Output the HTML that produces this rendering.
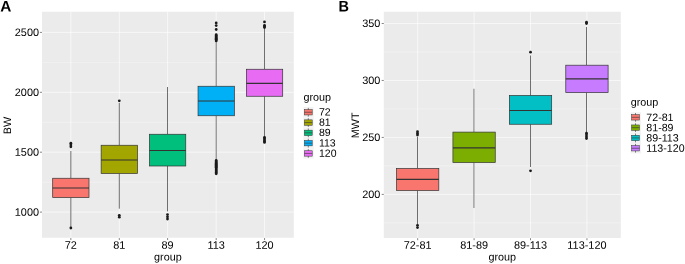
<!DOCTYPE html>
<html><head><meta charset="utf-8"><title>Boxplots</title>
<style>html,body{margin:0;padding:0;background:#fff}svg{display:block;will-change:transform;opacity:0.9999}</style>
</head><body>
<svg width="685" height="264" viewBox="0 0 685 264" font-family='"Liberation Sans", sans-serif'>
<rect width="685" height="264" fill="#fff"/>
<rect x="42.0" y="11.75" width="251.8" height="226.0" fill="#ebebeb"/>
<line x1="42.0" x2="293.8" y1="182.15" y2="182.15" stroke="#fff" stroke-width="0.33"/>
<line x1="42.0" x2="293.8" y1="122.25" y2="122.25" stroke="#fff" stroke-width="0.33"/>
<line x1="42.0" x2="293.8" y1="62.349999999999994" y2="62.349999999999994" stroke="#fff" stroke-width="0.33"/>
<line x1="42.0" x2="293.8" y1="212.10000000000002" y2="212.10000000000002" stroke="#fff" stroke-width="0.62"/>
<line x1="42.0" x2="293.8" y1="152.2" y2="152.2" stroke="#fff" stroke-width="0.62"/>
<line x1="42.0" x2="293.8" y1="92.3" y2="92.3" stroke="#fff" stroke-width="0.62"/>
<line x1="42.0" x2="293.8" y1="32.4" y2="32.4" stroke="#fff" stroke-width="0.62"/>
<line x1="70.85" x2="70.85" y1="11.75" y2="237.75" stroke="#fff" stroke-width="0.62"/>
<line x1="119.3" x2="119.3" y1="11.75" y2="237.75" stroke="#fff" stroke-width="0.62"/>
<line x1="167.6" x2="167.6" y1="11.75" y2="237.75" stroke="#fff" stroke-width="0.62"/>
<line x1="216.2" x2="216.2" y1="11.75" y2="237.75" stroke="#fff" stroke-width="0.62"/>
<line x1="264.55" x2="264.55" y1="11.75" y2="237.75" stroke="#fff" stroke-width="0.62"/>
<line x1="70.85" x2="70.85" y1="151" y2="178.25" stroke="#333" stroke-width="0.7"/>
<line x1="70.85" x2="70.85" y1="197.6" y2="227.2" stroke="#333" stroke-width="0.7"/>
<rect x="52.69134615384615" y="178.25" width="36.31730769230769" height="19.349999999999994" fill="#F8766D" stroke="#333" stroke-width="0.7"/>
<line x1="52.69134615384615" x2="89.00865384615383" y1="188" y2="188" stroke="#333" stroke-width="1.15"/>
<circle cx="70.85" cy="143.2" r="1.38" fill="#1a1a1a"/>
<circle cx="70.85" cy="145" r="1.38" fill="#1a1a1a"/>
<circle cx="70.85" cy="146.8" r="1.38" fill="#1a1a1a"/>
<circle cx="70.85" cy="228" r="1.38" fill="#1a1a1a"/>
<line x1="119.3" x2="119.3" y1="103" y2="145.25" stroke="#333" stroke-width="0.7"/>
<line x1="119.3" x2="119.3" y1="173.5" y2="208.7" stroke="#333" stroke-width="0.7"/>
<rect x="101.14134615384614" y="145.25" width="36.31730769230769" height="28.25" fill="#A3A500" stroke="#333" stroke-width="0.7"/>
<line x1="101.14134615384614" x2="137.45865384615385" y1="160" y2="160" stroke="#333" stroke-width="1.15"/>
<circle cx="119.3" cy="100.8" r="1.38" fill="#1a1a1a"/>
<circle cx="119.3" cy="215.3" r="1.38" fill="#1a1a1a"/>
<circle cx="119.3" cy="217.2" r="1.38" fill="#1a1a1a"/>
<line x1="167.5" x2="167.5" y1="87" y2="134.25" stroke="#333" stroke-width="0.7"/>
<line x1="167.5" x2="167.5" y1="166" y2="211.4" stroke="#333" stroke-width="0.7"/>
<rect x="149.44134615384615" y="134.25" width="36.31730769230769" height="31.75" fill="#00BF7D" stroke="#333" stroke-width="0.7"/>
<line x1="149.44134615384615" x2="185.75865384615383" y1="150.5" y2="150.5" stroke="#333" stroke-width="1.15"/>
<circle cx="167.5" cy="214.6" r="1.38" fill="#1a1a1a"/>
<circle cx="167.5" cy="216.8" r="1.38" fill="#1a1a1a"/>
<circle cx="167.5" cy="219" r="1.38" fill="#1a1a1a"/>
<line x1="216.2" x2="216.2" y1="42.5" y2="86.25" stroke="#666" stroke-width="0.9"/>
<line x1="216.2" x2="216.2" y1="115.75" y2="160" stroke="#666" stroke-width="0.9"/>
<rect x="198.04134615384615" y="86.25" width="36.31730769230769" height="29.5" fill="#00B0F6" stroke="#333" stroke-width="0.7"/>
<line x1="198.04134615384615" x2="234.35865384615383" y1="101" y2="101" stroke="#333" stroke-width="1.15"/>
<circle cx="216.2" cy="22.9" r="1.38" fill="#1a1a1a"/>
<circle cx="216.2" cy="25.6" r="1.38" fill="#1a1a1a"/>
<circle cx="216.2" cy="29.5" r="1.38" fill="#1a1a1a"/>
<circle cx="216.2" cy="34.7" r="1.38" fill="#1a1a1a"/>
<circle cx="216.2" cy="35.6" r="1.38" fill="#1a1a1a"/>
<circle cx="216.2" cy="36.5" r="1.38" fill="#1a1a1a"/>
<circle cx="216.2" cy="37.400000000000006" r="1.38" fill="#1a1a1a"/>
<circle cx="216.2" cy="38.300000000000004" r="1.38" fill="#1a1a1a"/>
<circle cx="216.2" cy="39.2" r="1.38" fill="#1a1a1a"/>
<circle cx="216.2" cy="40.1" r="1.38" fill="#1a1a1a"/>
<circle cx="216.2" cy="41.0" r="1.38" fill="#1a1a1a"/>
<circle cx="216.2" cy="160.5" r="1.38" fill="#1a1a1a"/>
<circle cx="216.2" cy="161.45" r="1.38" fill="#1a1a1a"/>
<circle cx="216.2" cy="162.4" r="1.38" fill="#1a1a1a"/>
<circle cx="216.2" cy="163.35" r="1.38" fill="#1a1a1a"/>
<circle cx="216.2" cy="164.3" r="1.38" fill="#1a1a1a"/>
<circle cx="216.2" cy="165.25" r="1.38" fill="#1a1a1a"/>
<circle cx="216.2" cy="166.2" r="1.38" fill="#1a1a1a"/>
<circle cx="216.2" cy="167.15" r="1.38" fill="#1a1a1a"/>
<circle cx="216.2" cy="168.1" r="1.38" fill="#1a1a1a"/>
<circle cx="216.2" cy="169.05" r="1.38" fill="#1a1a1a"/>
<circle cx="216.2" cy="170.0" r="1.38" fill="#1a1a1a"/>
<circle cx="216.2" cy="170.95" r="1.38" fill="#1a1a1a"/>
<circle cx="216.2" cy="171.9" r="1.38" fill="#1a1a1a"/>
<circle cx="216.2" cy="172.85" r="1.38" fill="#1a1a1a"/>
<circle cx="216.2" cy="173.8" r="1.38" fill="#1a1a1a"/>
<line x1="264.5" x2="264.5" y1="28.5" y2="69.25" stroke="#333" stroke-width="0.7"/>
<line x1="264.5" x2="264.5" y1="96.25" y2="136.5" stroke="#333" stroke-width="0.7"/>
<rect x="246.39134615384617" y="69.25" width="36.31730769230769" height="27.0" fill="#E76BF3" stroke="#333" stroke-width="0.7"/>
<line x1="246.39134615384617" x2="282.7086538461539" y1="83.3" y2="83.3" stroke="#333" stroke-width="1.15"/>
<circle cx="264.5" cy="21.9" r="1.38" fill="#1a1a1a"/>
<circle cx="264.5" cy="25.5" r="1.38" fill="#1a1a1a"/>
<circle cx="264.5" cy="26.5" r="1.38" fill="#1a1a1a"/>
<circle cx="264.5" cy="27.5" r="1.38" fill="#1a1a1a"/>
<circle cx="264.5" cy="137.3" r="1.38" fill="#1a1a1a"/>
<circle cx="264.5" cy="138.6" r="1.38" fill="#1a1a1a"/>
<circle cx="264.5" cy="139.9" r="1.38" fill="#1a1a1a"/>
<circle cx="264.5" cy="141.2" r="1.38" fill="#1a1a1a"/>
<circle cx="264.5" cy="142.4" r="1.38" fill="#1a1a1a"/>
<line x1="39.9" x2="42.0" y1="212.10000000000002" y2="212.10000000000002" stroke="#333" stroke-width="0.6"/>
<text transform="translate(39.05,215.70000000000002) rotate(0.03)" font-size="10.9" text-anchor="end" font-weight="normal" fill="#000">1000</text>
<line x1="39.9" x2="42.0" y1="152.2" y2="152.2" stroke="#333" stroke-width="0.6"/>
<text transform="translate(39.05,155.79999999999998) rotate(0.03)" font-size="10.9" text-anchor="end" font-weight="normal" fill="#000">1500</text>
<line x1="39.9" x2="42.0" y1="92.3" y2="92.3" stroke="#333" stroke-width="0.6"/>
<text transform="translate(39.05,95.89999999999999) rotate(0.03)" font-size="10.9" text-anchor="end" font-weight="normal" fill="#000">2000</text>
<line x1="39.9" x2="42.0" y1="32.4" y2="32.4" stroke="#333" stroke-width="0.6"/>
<text transform="translate(39.05,36.0) rotate(0.03)" font-size="10.9" text-anchor="end" font-weight="normal" fill="#000">2500</text>
<line x1="70.85" x2="70.85" y1="238.05" y2="240.05" stroke="#333" stroke-width="0.6"/>
<text transform="translate(70.85,248.8) rotate(0.03)" font-size="10.9" text-anchor="middle" font-weight="normal" fill="#000">72</text>
<line x1="119.3" x2="119.3" y1="238.05" y2="240.05" stroke="#333" stroke-width="0.6"/>
<text transform="translate(119.3,248.8) rotate(0.03)" font-size="10.9" text-anchor="middle" font-weight="normal" fill="#000">81</text>
<line x1="167.6" x2="167.6" y1="238.05" y2="240.05" stroke="#333" stroke-width="0.6"/>
<text transform="translate(167.6,248.8) rotate(0.03)" font-size="10.9" text-anchor="middle" font-weight="normal" fill="#000">89</text>
<line x1="216.2" x2="216.2" y1="238.05" y2="240.05" stroke="#333" stroke-width="0.6"/>
<text transform="translate(216.2,248.8) rotate(0.03)" font-size="10.9" text-anchor="middle" font-weight="normal" fill="#000">113</text>
<line x1="264.55" x2="264.55" y1="238.05" y2="240.05" stroke="#333" stroke-width="0.6"/>
<text transform="translate(264.55,248.8) rotate(0.03)" font-size="10.9" text-anchor="middle" font-weight="normal" fill="#000">120</text>
<text transform="translate(167.9,260.5) rotate(0.03)" font-size="10.8" text-anchor="middle" font-weight="normal" fill="#000">group</text>
<text transform="translate(10.9,125.5) rotate(-90.03)" font-size="10.8" text-anchor="middle" font-weight="normal" fill="#000">BW</text>
<text transform="translate(0.3,11.5) rotate(0.03)" font-size="15.4" text-anchor="start" font-weight="bold" fill="#000">A</text>
<text transform="translate(303.4,100.7) rotate(0.03)" font-size="10.8" text-anchor="start" font-weight="normal" fill="#000">group</text>
<rect x="303.4" y="107.1" width="10.3" height="10.3" fill="#f2f2f2"/>
<line x1="308.29999999999995" x2="308.29999999999995" y1="107.89999999999999" y2="116.6" stroke="#333" stroke-width="0.6"/>
<rect x="304.4" y="109.55" width="7.8" height="5.4" fill="#F8766D" stroke="#333" stroke-width="0.5"/>
<line x1="304.4" x2="312.2" y1="112.25" y2="112.25" stroke="#333" stroke-width="0.6"/>
<text transform="translate(318.95,115.5) rotate(0.03)" font-size="10.5" text-anchor="start" font-weight="normal" fill="#000">72</text>
<rect x="303.4" y="117.39999999999999" width="10.3" height="10.3" fill="#f2f2f2"/>
<line x1="308.29999999999995" x2="308.29999999999995" y1="118.19999999999999" y2="126.89999999999999" stroke="#333" stroke-width="0.6"/>
<rect x="304.4" y="119.85" width="7.8" height="5.4" fill="#A3A500" stroke="#333" stroke-width="0.5"/>
<line x1="304.4" x2="312.2" y1="122.55" y2="122.55" stroke="#333" stroke-width="0.6"/>
<text transform="translate(318.95,125.8) rotate(0.03)" font-size="10.5" text-anchor="start" font-weight="normal" fill="#000">81</text>
<rect x="303.4" y="127.69999999999999" width="10.3" height="10.3" fill="#f2f2f2"/>
<line x1="308.29999999999995" x2="308.29999999999995" y1="128.5" y2="137.2" stroke="#333" stroke-width="0.6"/>
<rect x="304.4" y="130.14999999999998" width="7.8" height="5.4" fill="#00BF7D" stroke="#333" stroke-width="0.5"/>
<line x1="304.4" x2="312.2" y1="132.85" y2="132.85" stroke="#333" stroke-width="0.6"/>
<text transform="translate(318.95,136.1) rotate(0.03)" font-size="10.5" text-anchor="start" font-weight="normal" fill="#000">89</text>
<rect x="303.4" y="138.0" width="10.3" height="10.3" fill="#f2f2f2"/>
<line x1="308.29999999999995" x2="308.29999999999995" y1="138.8" y2="147.5" stroke="#333" stroke-width="0.6"/>
<rect x="304.4" y="140.45" width="7.8" height="5.4" fill="#00B0F6" stroke="#333" stroke-width="0.5"/>
<line x1="304.4" x2="312.2" y1="143.15" y2="143.15" stroke="#333" stroke-width="0.6"/>
<text transform="translate(318.95,146.4) rotate(0.03)" font-size="10.5" text-anchor="start" font-weight="normal" fill="#000">113</text>
<rect x="303.4" y="148.3" width="10.3" height="10.3" fill="#f2f2f2"/>
<line x1="308.29999999999995" x2="308.29999999999995" y1="149.10000000000002" y2="157.8" stroke="#333" stroke-width="0.6"/>
<rect x="304.4" y="150.75" width="7.8" height="5.4" fill="#E76BF3" stroke="#333" stroke-width="0.5"/>
<line x1="304.4" x2="312.2" y1="153.45000000000002" y2="153.45000000000002" stroke="#333" stroke-width="0.6"/>
<text transform="translate(318.95,156.70000000000002) rotate(0.03)" font-size="10.5" text-anchor="start" font-weight="normal" fill="#000">120</text>
<rect x="383.8" y="11.75" width="236.99999999999994" height="226.25" fill="#ebebeb"/>
<line x1="383.8" x2="620.8" y1="222.8775" y2="222.8775" stroke="#fff" stroke-width="0.33"/>
<line x1="383.8" x2="620.8" y1="165.9125" y2="165.9125" stroke="#fff" stroke-width="0.33"/>
<line x1="383.8" x2="620.8" y1="108.9475" y2="108.9475" stroke="#fff" stroke-width="0.33"/>
<line x1="383.8" x2="620.8" y1="51.9825" y2="51.9825" stroke="#fff" stroke-width="0.33"/>
<line x1="383.8" x2="620.8" y1="194.395" y2="194.395" stroke="#fff" stroke-width="0.62"/>
<line x1="383.8" x2="620.8" y1="137.43" y2="137.43" stroke="#fff" stroke-width="0.62"/>
<line x1="383.8" x2="620.8" y1="80.465" y2="80.465" stroke="#fff" stroke-width="0.62"/>
<line x1="383.8" x2="620.8" y1="23.5" y2="23.5" stroke="#fff" stroke-width="0.62"/>
<line x1="417.65714285714284" x2="417.65714285714284" y1="11.75" y2="238.0" stroke="#fff" stroke-width="0.62"/>
<line x1="474.0857142857143" x2="474.0857142857143" y1="11.75" y2="238.0" stroke="#fff" stroke-width="0.62"/>
<line x1="530.5142857142857" x2="530.5142857142857" y1="11.75" y2="238.0" stroke="#fff" stroke-width="0.62"/>
<line x1="586.9428571428571" x2="586.9428571428571" y1="11.75" y2="238.0" stroke="#fff" stroke-width="0.62"/>
<line x1="417.5" x2="417.5" y1="137" y2="168.5" stroke="#333" stroke-width="0.7"/>
<line x1="417.5" x2="417.5" y1="190.5" y2="224" stroke="#333" stroke-width="0.7"/>
<rect x="396.49642857142857" y="168.5" width="42.321428571428555" height="22.0" fill="#F8766D" stroke="#333" stroke-width="0.7"/>
<line x1="396.49642857142857" x2="438.8178571428571" y1="179.35" y2="179.35" stroke="#333" stroke-width="1.15"/>
<circle cx="417.5" cy="131.7" r="1.38" fill="#1a1a1a"/>
<circle cx="417.5" cy="133.4" r="1.38" fill="#1a1a1a"/>
<circle cx="417.5" cy="135.1" r="1.38" fill="#1a1a1a"/>
<circle cx="417.5" cy="225.3" r="1.38" fill="#1a1a1a"/>
<circle cx="417.5" cy="227.6" r="1.38" fill="#1a1a1a"/>
<line x1="473.9" x2="473.9" y1="88.75" y2="132.1" stroke="#9c9c9c" stroke-width="1.4"/>
<line x1="473.9" x2="473.9" y1="162.5" y2="208" stroke="#9c9c9c" stroke-width="1.4"/>
<rect x="452.925" y="132.1" width="42.321428571428555" height="30.400000000000006" fill="#7CAE00" stroke="#333" stroke-width="0.7"/>
<line x1="452.925" x2="495.24642857142857" y1="147.9" y2="147.9" stroke="#333" stroke-width="1.15"/>
<line x1="530.5142857142857" x2="530.5142857142857" y1="55.5" y2="95.5" stroke="#333" stroke-width="0.7"/>
<line x1="530.5142857142857" x2="530.5142857142857" y1="124.25" y2="167" stroke="#333" stroke-width="0.7"/>
<rect x="509.35357142857146" y="95.5" width="42.321428571428555" height="28.75" fill="#00BFC4" stroke="#333" stroke-width="0.7"/>
<line x1="509.35357142857146" x2="551.675" y1="110.5" y2="110.5" stroke="#333" stroke-width="1.15"/>
<circle cx="530.5142857142857" cy="52.2" r="1.38" fill="#1a1a1a"/>
<circle cx="530.5142857142857" cy="170.8" r="1.38" fill="#1a1a1a"/>
<line x1="586.5" x2="586.5" y1="27" y2="65.2" stroke="#333" stroke-width="0.7"/>
<line x1="586.5" x2="586.5" y1="92.6" y2="132" stroke="#333" stroke-width="0.7"/>
<rect x="565.7821428571428" y="65.2" width="42.321428571428555" height="27.39999999999999" fill="#C77CFF" stroke="#333" stroke-width="0.7"/>
<line x1="565.7821428571428" x2="608.1035714285713" y1="78.85" y2="78.85" stroke="#333" stroke-width="1.15"/>
<circle cx="586.5" cy="22.2" r="1.38" fill="#1a1a1a"/>
<circle cx="586.5" cy="23.5" r="1.38" fill="#1a1a1a"/>
<circle cx="586.5" cy="133.2" r="1.38" fill="#1a1a1a"/>
<circle cx="586.5" cy="135" r="1.38" fill="#1a1a1a"/>
<circle cx="586.5" cy="136.8" r="1.38" fill="#1a1a1a"/>
<circle cx="586.5" cy="138.5" r="1.38" fill="#1a1a1a"/>
<line x1="381.7" x2="383.8" y1="194.395" y2="194.395" stroke="#333" stroke-width="0.6"/>
<text transform="translate(380.40000000000003,197.995) rotate(0.03)" font-size="10.9" text-anchor="end" font-weight="normal" fill="#000">200</text>
<line x1="381.7" x2="383.8" y1="137.43" y2="137.43" stroke="#333" stroke-width="0.6"/>
<text transform="translate(380.40000000000003,141.03) rotate(0.03)" font-size="10.9" text-anchor="end" font-weight="normal" fill="#000">250</text>
<line x1="381.7" x2="383.8" y1="80.465" y2="80.465" stroke="#333" stroke-width="0.6"/>
<text transform="translate(380.40000000000003,84.065) rotate(0.03)" font-size="10.9" text-anchor="end" font-weight="normal" fill="#000">300</text>
<line x1="381.7" x2="383.8" y1="23.5" y2="23.5" stroke="#333" stroke-width="0.6"/>
<text transform="translate(380.40000000000003,27.1) rotate(0.03)" font-size="10.9" text-anchor="end" font-weight="normal" fill="#000">350</text>
<line x1="417.65714285714284" x2="417.65714285714284" y1="238.2" y2="240.2" stroke="#333" stroke-width="0.6"/>
<text transform="translate(417.65714285714284,248.8) rotate(0.03)" font-size="10.9" text-anchor="middle" font-weight="normal" fill="#000">72-81</text>
<line x1="474.0857142857143" x2="474.0857142857143" y1="238.2" y2="240.2" stroke="#333" stroke-width="0.6"/>
<text transform="translate(474.0857142857143,248.8) rotate(0.03)" font-size="10.9" text-anchor="middle" font-weight="normal" fill="#000">81-89</text>
<line x1="530.5142857142857" x2="530.5142857142857" y1="238.2" y2="240.2" stroke="#333" stroke-width="0.6"/>
<text transform="translate(530.5142857142857,248.8) rotate(0.03)" font-size="10.9" text-anchor="middle" font-weight="normal" fill="#000">89-113</text>
<line x1="586.9428571428571" x2="586.9428571428571" y1="238.2" y2="240.2" stroke="#333" stroke-width="0.6"/>
<text transform="translate(586.9428571428571,248.8) rotate(0.03)" font-size="10.9" text-anchor="middle" font-weight="normal" fill="#000">113-120</text>
<text transform="translate(502.29999999999995,260.5) rotate(0.03)" font-size="10.8" text-anchor="middle" font-weight="normal" fill="#000">group</text>
<text transform="translate(359.0,125.375) rotate(-90.03)" font-size="10.8" text-anchor="middle" font-weight="normal" fill="#000">MWT</text>
<text transform="translate(338.5,11.5) rotate(0.03) scale(0.94,1)" font-size="15.4" text-anchor="start" font-weight="bold" fill="#000">B</text>
<text transform="translate(630.7,105.8) rotate(0.03)" font-size="10.8" text-anchor="start" font-weight="normal" fill="#000">group</text>
<rect x="630.6" y="112.2" width="10.3" height="10.3" fill="#f2f2f2"/>
<line x1="635.5" x2="635.5" y1="113.0" y2="121.7" stroke="#333" stroke-width="0.6"/>
<rect x="631.6" y="114.65" width="7.8" height="5.4" fill="#F8766D" stroke="#333" stroke-width="0.5"/>
<line x1="631.6" x2="639.4" y1="117.35000000000001" y2="117.35000000000001" stroke="#333" stroke-width="0.6"/>
<text transform="translate(646.3,120.95) rotate(0.03)" font-size="10.65" text-anchor="start" font-weight="normal" fill="#000">72-81</text>
<rect x="630.6" y="122.5" width="10.3" height="10.3" fill="#f2f2f2"/>
<line x1="635.5" x2="635.5" y1="123.3" y2="132.0" stroke="#333" stroke-width="0.6"/>
<rect x="631.6" y="124.95" width="7.8" height="5.4" fill="#7CAE00" stroke="#333" stroke-width="0.5"/>
<line x1="631.6" x2="639.4" y1="127.65" y2="127.65" stroke="#333" stroke-width="0.6"/>
<text transform="translate(646.3,131.25) rotate(0.03)" font-size="10.65" text-anchor="start" font-weight="normal" fill="#000">81-89</text>
<rect x="630.6" y="132.8" width="10.3" height="10.3" fill="#f2f2f2"/>
<line x1="635.5" x2="635.5" y1="133.60000000000002" y2="142.3" stroke="#333" stroke-width="0.6"/>
<rect x="631.6" y="135.25" width="7.8" height="5.4" fill="#00BFC4" stroke="#333" stroke-width="0.5"/>
<line x1="631.6" x2="639.4" y1="137.95000000000002" y2="137.95000000000002" stroke="#333" stroke-width="0.6"/>
<text transform="translate(646.3,141.55) rotate(0.03)" font-size="10.65" text-anchor="start" font-weight="normal" fill="#000">89-113</text>
<rect x="630.6" y="143.1" width="10.3" height="10.3" fill="#f2f2f2"/>
<line x1="635.5" x2="635.5" y1="143.9" y2="152.6" stroke="#333" stroke-width="0.6"/>
<rect x="631.6" y="145.54999999999998" width="7.8" height="5.4" fill="#C77CFF" stroke="#333" stroke-width="0.5"/>
<line x1="631.6" x2="639.4" y1="148.25" y2="148.25" stroke="#333" stroke-width="0.6"/>
<text transform="translate(646.3,151.85) rotate(0.03)" font-size="10.65" text-anchor="start" font-weight="normal" fill="#000">113-120</text>
</svg>
</body></html>
